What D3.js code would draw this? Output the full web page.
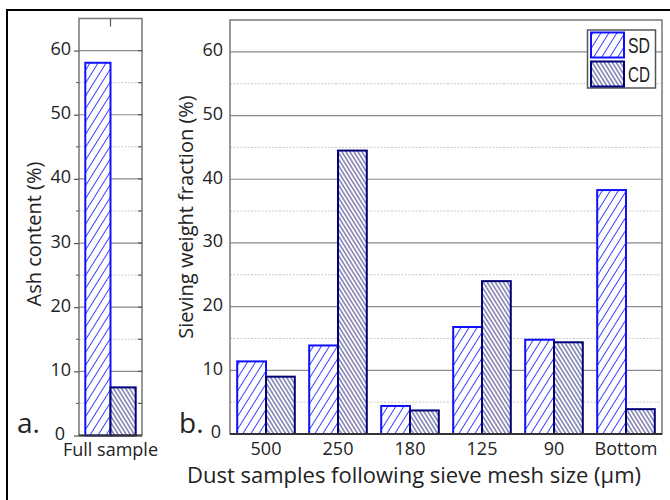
<!DOCTYPE html>
<html><head><meta charset="utf-8">
<script src="https://cdn.jsdelivr.net/npm/d3@7"></script>
<style>
html,body{margin:0;padding:0;background:#fff;}
svg{display:block;}
text{font-family:"Open Sans","Noto Sans",sans-serif;fill:#222;}
</style></head>
<body>
<svg id="chart" width="670" height="500"></svg>
<script>
// ---------- data ----------
const categoriesA = ["Full sample"];
const ashSD = [58.1];
const ashCD = [7.5];
const categoriesB = ["500", "250", "180", "125", "90", "Bottom"];
const sdValues = [11.4, 13.9, 4.4, 16.8, 14.8, 38.3];
const cdValues = [9.0, 44.5, 3.7, 24.0, 14.4, 3.9];
const seriesNames = ["SD", "CD"];
const yTicks = [0, 10, 20, 30, 40, 50, 60];
const yMinorTicks = [5, 15, 25, 35, 45, 55];

const svg = d3.select("#chart");
const defs = svg.append("defs");

function hatch(id, color, spacing, angle, width) {
  const p = defs.append("pattern").attr("id", id)
    .attr("patternUnits", "userSpaceOnUse")
    .attr("width", spacing).attr("height", 10)
    .attr("patternTransform", `rotate(${angle})`);
  p.append("rect").attr("width", spacing).attr("height", 10).attr("fill", "#fff");
  p.append("line").attr("x1", spacing / 2).attr("x2", spacing / 2)
    .attr("y1", 0).attr("y2", 10).attr("stroke", color).attr("stroke-width", width);
}
hatch("hSD", "#3c3cff", 6.8, 32, 1);
hatch("hCD", "#24247e", 3.4, -32, 0.9);
const fills = { SD: "url(#hSD)", CD: "url(#hCD)" };
const strokes = { SD: "#1010ff", CD: "#000078" };

// outer frame
svg.append("rect").attr("x", 7).attr("y", 10).attr("width", 700).attr("height", 600)
  .attr("fill", "none").attr("stroke", "#000").attr("stroke-width", 2);

function panel(cfg) {
  const { left, right, top, bottom, cats, vals, tickSize, tickPad, zeroShift } = cfg;
  const y = d3.scaleLinear().domain([0, 65]).range([bottom, top]);
  const x = d3.scaleBand().domain(cats).range([left, right]).paddingInner(0.2).paddingOuter(0.1);
  const xs = d3.scaleBand().domain(seriesNames).range([0, x.bandwidth()]);
  const g = svg.append("g");

  // gridlines
  g.selectAll(".maj").data(yTicks.filter(d => d > 0)).join("line")
    .attr("x1", left).attr("x2", right).attr("y1", d => y(d)).attr("y2", d => y(d))
    .attr("stroke", "#8a8a8a").attr("stroke-width", 1.2);
  g.selectAll(".min").data(yMinorTicks).join("line")
    .attr("x1", left).attr("x2", right).attr("y1", d => y(d)).attr("y2", d => y(d))
    .attr("stroke", "#c8c8c8").attr("stroke-width", 1).attr("stroke-dasharray", "2,1.5");

  // bars
  const rows = cats.map((c, i) => ({ c, SD: vals.SD[i], CD: vals.CD[i] }));
  const cg = g.selectAll(".cat").data(rows).join("g")
    .attr("transform", d => `translate(${x(d.c)},0)`);
  cg.selectAll("rect").data(d => seriesNames.map(s => ({ s, v: d[s] }))).join("rect")
    .attr("x", d => xs(d.s)).attr("width", xs.bandwidth())
    .attr("y", d => y(d.v)).attr("height", d => y(0) - y(d.v))
    .attr("fill", d => fills[d.s]).attr("stroke", d => strokes[d.s]).attr("stroke-width", 2);

  // frame
  g.append("rect").attr("x", left).attr("y", top).attr("width", right - left).attr("height", bottom - top)
    .attr("fill", "none").attr("stroke", "#777").attr("stroke-width", 1.5);
  g.append("line").attr("x1", left).attr("x2", right).attr("y1", bottom).attr("y2", bottom)
    .attr("stroke", "#333").attr("stroke-width", 2);

  // left axis
  const ay = g.append("g").attr("transform", `translate(${left},0)`)
    .call(d3.axisLeft(y).tickValues(yTicks).tickSize(tickSize).tickPadding(tickPad).tickFormat(d3.format("d")));
  ay.select(".domain").remove();
  ay.selectAll("line").attr("stroke", "#555").attr("stroke-width", 1.2);
  ay.selectAll("text").style("font-size", "18px").attr("fill", "#222").attr("dy", "0.22em")
    .attr("dx", d => d === 0 ? -zeroShift : 0);

  if (cfg.minorOut) {
    g.selectAll(".mt").data(yMinorTicks).join("line")
      .attr("x1", left - 3).attr("x2", left).attr("y1", d => y(d)).attr("y2", d => y(d))
      .attr("stroke", "#555");
    g.selectAll(".rt").data(yTicks.concat(yMinorTicks)).join("line")
      .attr("x1", right - 4).attr("x2", right).attr("y1", d => y(d)).attr("y2", d => y(d))
      .attr("stroke", "#555").attr("stroke-width", 1.2);
    g.selectAll(".tt").data(cats).join("line")
      .attr("x1", d => x(d) + x.bandwidth() / 2).attr("x2", d => x(d) + x.bandwidth() / 2)
      .attr("y1", top).attr("y2", top + 8).attr("stroke", "#555").attr("stroke-width", 1.2);
  }

  // bottom axis labels
  const ax = g.append("g").attr("transform", `translate(0,${bottom})`)
    .call(d3.axisBottom(x).tickSize(0).tickPadding(8));
  ax.select(".domain").remove();
  ax.selectAll("text").style("font-size", "18px").attr("fill", "#222");
  return { x, y };
}

panel({ left: 79, right: 142, top: 18.5, bottom: 435.5, cats: categoriesA,
  vals: { SD: ashSD, CD: ashCD }, tickSize: 5, tickPad: 3, minorOut: true, zeroShift: 6 });
panel({ left: 230, right: 662, top: 20, bottom: 434, cats: categoriesB,
  vals: { SD: sdValues, CD: cdValues }, tickSize: 0, tickPad: 7, minorOut: false, zeroShift: 2 });

// axis titles
svg.append("text").attr("transform", "translate(34,234) rotate(-90)").attr("text-anchor", "middle")
  .attr("dy", "0.35em").style("font-size", "20px").text("Ash content (%)");
svg.append("text").attr("transform", "translate(186,217) rotate(-90)").attr("text-anchor", "middle")
  .attr("dy", "0.35em").style("font-size", "20px").text("Sieving weight fraction (%)");
svg.append("text").attr("x", 414).attr("y", 483).attr("text-anchor", "middle")
  .style("font-size", "22px").text("Dust samples following sieve mesh size (µm)");

// panel letters
svg.append("text").attr("x", 17).attr("y", 433).style("font-size", "28px").attr("fill", "#111").text("a.");
svg.append("text").attr("x", 179).attr("y", 433).style("font-size", "28px").attr("fill", "#111").text("b.");

// legend
const lg = svg.append("g");
lg.append("rect").attr("x", 587.5).attr("y", 30).attr("width", 68).attr("height", 58)
  .attr("fill", "#fff").attr("stroke", "#555").attr("stroke-width", 1.5);
const li = lg.selectAll(".li").data(seriesNames).join("g")
  .attr("transform", (d, i) => `translate(0,${i * 29})`);
li.append("rect").attr("x", 591).attr("y", 32.5).attr("width", 33).attr("height", 25)
  .attr("fill", d => fills[d]).attr("stroke", d => strokes[d]).attr("stroke-width", 2);
li.append("text").attr("x", 628).attr("y", 53).attr("textLength", 22).attr("lengthAdjust", "spacingAndGlyphs")
  .style("font-family", "'Liberation Sans',Arial,sans-serif").style("font-size", "22px").attr("fill", "#222")
  .text(d => d);
</script>
</body></html>
